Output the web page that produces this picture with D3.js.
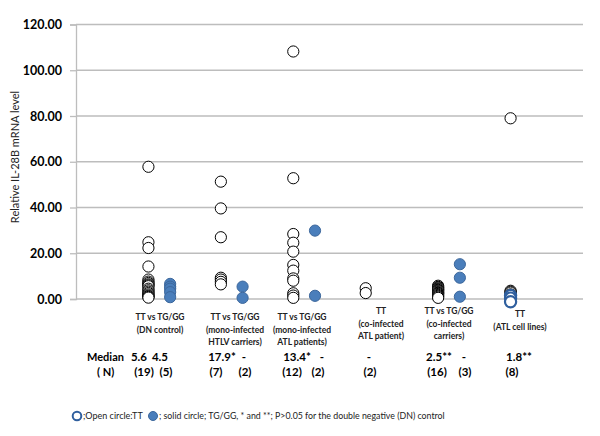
<!DOCTYPE html>
<html>
<head>
<meta charset="utf-8">
<script src="https://cdn.jsdelivr.net/npm/d3@7"></script>
<style>
  body { margin: 0; background: #fff; }
  svg { font-family: Lato, "Open Sans", sans-serif; }
</style>
</head>
<body>
<svg width="600" height="436"></svg>
<script>

// values, one array per column
const dn_tt = [57.8, 24.8, 22.3, 14.2, 8.5, 7.6, 7.0, 6.4, 6.0, 5.6, 4.5, 3.8, 3.2, 2.6, 2.0, 1.5, 1.2, 0.9, 0.6];
const dn_tg = [6.6, 5.4, 4.5, 3.0, 0.8];
const htlv_tt = [51.3, 39.6, 27.0, 9.3, 8.5, 7.5, 6.4];
const htlv_tg = [5.4, 0.5];
const atl_tt = [108.2, 52.8, 28.4, 24.6, 20.7, 14.9, 12.4, 9.0, 8.0, 2.5, 1.5, 0.5];
const atl_tg = [29.9, 1.4];
const coatl_tt = [4.7, 2.6];
const cocar_tt = [5.8, 5.3, 5.0, 4.6, 4.3, 4.0, 3.7, 3.4, 3.0, 2.7, 2.5, 2.2, 1.8, 1.4, 1.0, 0.5];
const cocar_tg = [15.2, 9.3, 1.0];
const lines_tt = [79.0, 3.6, 3.2, 2.8, 2.0, 1.5, 0.4, -1.2];

const y_ticks = [0, 20, 40, 60, 80, 100, 120];

const group_labels = [
  ["TT vs TG/GG", "(DN control)"],
  ["TT vs TG/GG", "(mono-infected", "HTLV carriers)"],
  ["TT vs TG/GG", "(mono-infected", "ATL patients)"],
  ["TT", "(co-infected", "ATL patient)"],
  ["TT vs TG/GG", "(co-infected", "carriers)"],
  ["TT", "(ATL cell lines)"]
];
const medians = [["5.6", "4.5"], ["17.9*", "-"], ["13.4*", "-"], ["-"], ["2.5**", "-"], ["1.8**"]];
const counts = [["(19)", "(5)"], ["(7)", "(2)"], ["(12)", "(2)"], ["(2)"], ["(16)", "(3)"], ["(8)"]];

// columns: group index, TT or TG, values
const columns = [
  {g: 0, type: "TT", values: dn_tt},
  {g: 0, type: "TG", values: dn_tg},
  {g: 1, type: "TT", values: htlv_tt},
  {g: 1, type: "TG", values: htlv_tg},
  {g: 2, type: "TT", values: atl_tt},
  {g: 2, type: "TG", values: atl_tg},
  {g: 3, type: "TT", values: coatl_tt},
  {g: 4, type: "TT", values: cocar_tt},
  {g: 4, type: "TG", values: cocar_tg},
  {g: 5, type: "TT", values: lines_tt}
];

const svg = d3.select("svg");

const x = d3.scaleLinear().domain([0, 7]).range([76, 583]);
const y = d3.scaleLinear().domain([0, 120]).range([299, 24.5]);
const offset = 0.3;
const colX = d => x(d.g + 1 + (d.type == "TG" ? offset : 0));

// gridlines
svg.selectAll(".grid").data(y_ticks).enter().append("line")
  .attr("class", "grid")
  .attr("x1", x(0)).attr("x2", x(7))
  .attr("y1", d => y(d)).attr("y2", d => y(d))
  .style("stroke", "#bdbdbd")
  .style("stroke-width", 1.3);

// y axis
const yAxis = svg.append("g")
  .attr("transform", `translate(${x(0)},0)`)
  .call(d3.axisLeft(y).tickValues(y_ticks).tickFormat(d3.format(".2f")).tickSize(6).tickPadding(8));
yAxis.select(".domain").style("stroke", "#bdbdbd").style("stroke-width", 1.3);
yAxis.selectAll(".tick line").style("stroke", "#bdbdbd").style("stroke-width", 1.3);
yAxis.selectAll(".tick text")
  .style("font-family", "Lato, sans-serif")
  .style("font-size", "12.5px")
  .style("font-weight", "bold")
  .style("fill", "#000");

svg.append("text")
  .attr("transform", "translate(19,157) rotate(-90)")
  .attr("text-anchor", "middle")
  .style("font-size", "11px")
  .style("fill", "#222")
  .text("Relative IL-28B mRNA level");

// points
const points = [];
columns.forEach(c => {
  c.values.forEach((v, i) => {
    const blueEdge = c.g == 5 && i >= c.values.length - 3;
    points.push({col: c, v, blueEdge});
  });
});

svg.selectAll(".pt").data(points).enter().append("circle")
  .attr("class", "pt")
  .attr("cx", d => colX(d.col))
  .attr("cy", d => y(d.v))
  .attr("r", 5.6)
  .style("fill", d => d.col.type == "TG" ? "#4a7ebb" : "#fff")
  .style("stroke", d => d.col.type == "TG" ? "#3c679c" : (d.blueEdge ? "#2f5f9e" : "#000"))
  .style("stroke-width", d => d.blueEdge ? 2.2 : 1);

// category labels
const label_x = [160, 235, 302, 381, 449, 520];
const label_top = [317, 317, 317, 311, 311, 314];
group_labels.forEach((lines, gi) => {
  const t = svg.append("text")
    .attr("text-anchor", "middle")
    .style("font-size", "8.5px")
    .style("font-weight", "bold")
    .style("fill", "#222");
  lines.forEach((s, li) => {
    t.append("tspan")
      .attr("x", label_x[gi])
      .attr("y", label_top[gi] + 3 + li * 12.5)
      .text(s);
  });
});

// median and N rows
svg.append("text").attr("x", 87).attr("y", 361)
  .style("font-size", "11px").style("font-weight", "bold").text("Median");
svg.append("text").attr("x", 97).attr("y", 376)
  .style("font-size", "11px").style("font-weight", "bold").text("( N)");

const row_x = [[139, 160], [222, 244], [297, 322], [369], [439, 464], [519]];
const n_x = [[144, 166], [216, 245], [292, 318], [370], [437, 465], [512]];
medians.forEach((m, gi) => {
  m.forEach((s, k) => {
    svg.append("text").attr("x", row_x[gi][k]).attr("y", 361)
      .attr("text-anchor", "middle")
      .style("font-size", "11.5px").style("font-weight", "bold").text(s);
  });
});
counts.forEach((m, gi) => {
  m.forEach((s, k) => {
    svg.append("text").attr("x", n_x[gi][k]).attr("y", 376)
      .attr("text-anchor", "middle")
      .style("font-size", "11.5px").style("font-weight", "bold").text(s);
  });
});

// legend
svg.append("circle").attr("cx", 77).attr("cy", 416).attr("r", 4.3)
  .style("fill", "#fff").style("stroke", "#2f5f9e").style("stroke-width", 2);
svg.append("text").attr("x", 83).attr("y", 419)
  .style("font-size", "9px").style("fill", "#222").text(";Open circle:TT");
svg.append("circle").attr("cx", 153).attr("cy", 416).attr("r", 4.5)
  .style("fill", "#4a7ebb").style("stroke", "#3c679c");
svg.append("text").attr("x", 159).attr("y", 419)
  .style("font-size", "8.8px").style("fill", "#222")
  .text(";  solid circle; TG/GG,  * and **; P>0.05 for the double negative (DN) control");

</script>
</body>
</html>
